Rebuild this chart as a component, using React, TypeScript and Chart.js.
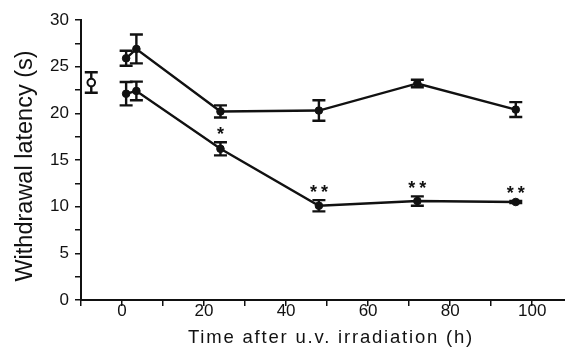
import { useEffect, useRef } from "react";
import { Chart, registerables } from "chart.js";

Chart.register(...registerables);

// ---- text ----
const xTitle = "Time after u.v. irradiation (h)";
const yTitle = "Withdrawal latency (s)";

// ---- tick labels ----
const xTickLabels = [0, 20, 40, 60, 80, 100];
const yTickLabels = [0, 5, 10, 15, 20, 25, 30];

// ---- data: baseline (open circle) ----
const baselineTimes = [-7.5];
const baselineMean = [23.3];
const baselineSem = [1.1];

// ---- data: upper series ----
const upperTimes = [1, 3.5, 24, 48, 72, 96];
const upperMean = [25.9, 26.9, 20.2, 20.3, 23.2, 20.4];
const upperSem = [0.8, 1.55, 0.65, 1.1, 0.4, 0.8];

// ---- data: lower series ----
const lowerTimes = [1, 3.5, 24, 48, 72, 96];
const lowerMean = [22.1, 22.4, 16.2, 10.1, 10.6, 10.5];
const lowerSem = [1.25, 1.0, 0.7, 0.6, 0.5, 0.1];
const lowerSig = ["", "", "*", "**", "**", "**"];

const INK = "#111";
const FONT = "'Liberation Sans', Arial, sans-serif";

const toPoints = (xs: number[], ys: number[]) => xs.map((x, i) => ({ x, y: ys[i] }));

const errorBarPlugin = {
  id: "errorBars",
  afterLayout(chart: any) {
    const xs = chart.scales.x;
    const ys = chart.scales.y;
    if (xs && !xs.__wrapped) {
      const orig = xs.drawTitle.bind(xs);
      xs.drawTitle = (...args: any[]) => {
        const ctx = chart.ctx;
        ctx.save();
        ctx.letterSpacing = "1.8px";
        ctx.translate(8, 0);
        orig(...args);
        ctx.restore();
      };
      xs.__wrapped = true;
    }
    if (ys && !ys.__wrapped) {
      const orig = ys.drawTitle.bind(ys);
      ys.drawTitle = (...args: any[]) => {
        const ctx = chart.ctx;
        ctx.save();
        ctx.translate(0, 6);
        orig(...args);
        ctx.restore();
      };
      ys.__wrapped = true;
    }
  },
  beforeDatasetsDraw(chart: any) {
    const { ctx } = chart;
    const xs = chart.scales.x;
    const ys = chart.scales.y;
    ctx.save();
    ctx.strokeStyle = INK;
    ctx.lineWidth = 2.4;
    chart.data.datasets.forEach((ds: any) => {
      const sems: number[] | undefined = ds.sem;
      if (!sems) return;
      ds.data.forEach((p: any, i: number) => {
        const px = xs.getPixelForValue(p.x);
        const top = ys.getPixelForValue(p.y + sems[i]);
        const bot = ys.getPixelForValue(p.y - sems[i]);
        ctx.beginPath();
        ctx.moveTo(px, top);
        ctx.lineTo(px, bot);
        ctx.moveTo(px - 6.5, top);
        ctx.lineTo(px + 6.5, top);
        ctx.moveTo(px - 6.5, bot);
        ctx.lineTo(px + 6.5, bot);
        ctx.stroke();
      });
    });
    ctx.restore();
  },
  afterDatasetsDraw(chart: any) {
    const { ctx } = chart;
    const xs = chart.scales.x;
    const ys = chart.scales.y;
    ctx.save();
    ctx.fillStyle = INK;
    ctx.font = `bold 18px ${FONT}`;
    ctx.textAlign = "center";
    ctx.textBaseline = "alphabetic";
    chart.data.datasets.forEach((ds: any) => {
      const sig: string[] | undefined = ds.sig;
      if (!sig) return;
      ds.data.forEach((p: any, i: number) => {
        const label = sig[i];
        if (!label) return;
        const px = xs.getPixelForValue(p.x);
        const top = ys.getPixelForValue(p.y + (ds.sem ? ds.sem[i] : 0));
        const centerY = top - 13;
        const n = label.length;
        for (let k = 0; k < n; k++) {
          const sx = px + (k - (n - 1) / 2) * 11;
          ctx.fillText(label[k], sx, centerY + 0.58 * 18);
        }
      });
    });
    ctx.restore();
  },
};

export default function App() {
  const canvasRef = useRef<HTMLCanvasElement | null>(null);

  useEffect(() => {
    const canvas = canvasRef.current;
    if (!canvas) return;
    const chart = new Chart(canvas, {
      type: "scatter",
      data: {
        datasets: [
          {
            label: "Baseline",
            data: toPoints(baselineTimes, baselineMean),
            sem: baselineSem,
            showLine: false,
            pointStyle: "circle",
            pointRadius: 3.8,
            pointBackgroundColor: "#fff",
            pointBorderColor: INK,
            pointBorderWidth: 2,
          } as any,
          {
            label: "Upper",
            data: toPoints(upperTimes, upperMean),
            sem: upperSem,
            showLine: true,
            borderColor: INK,
            borderWidth: 2.4,
            pointRadius: 3.8,
            pointBackgroundColor: INK,
            pointBorderColor: INK,
            pointBorderWidth: 1,
          } as any,
          {
            label: "Lower",
            data: toPoints(lowerTimes, lowerMean),
            sem: lowerSem,
            sig: lowerSig,
            showLine: true,
            borderColor: INK,
            borderWidth: 2.4,
            pointRadius: 3.8,
            pointBackgroundColor: INK,
            pointBorderColor: INK,
            pointBorderWidth: 1,
          } as any,
        ],
      },
      options: {
        animation: false,
        responsive: false,
        devicePixelRatio: 1,
        layout: { autoPadding: false, padding: { top: 20, left: 0, right: 0, bottom: 1.5 } },
        plugins: {
          legend: { display: false },
          tooltip: { enabled: false },
        },
        scales: {
          x: {
            type: "linear",
            min: -10,
            max: 108,
            afterBuildTicks: (scale: any) => {
              scale.ticks = scale.ticks.filter(
                (t: any) => Math.abs(t.value / 10 - Math.round(t.value / 10)) < 1e-6
              );
            },
            ticks: {
              stepSize: 10,
              maxTicksLimit: 100,
              includeBounds: false,
              autoSkip: false,
              maxRotation: 0,
              padding: -3,
              color: INK,
              font: { family: FONT, size: 17, lineHeight: 1 },
              callback: (v: any) => (xTickLabels.includes(Number(v)) ? String(v) : ""),
            },
            grid: {
              drawOnChartArea: false,
              drawTicks: true,
              tickLength: 6,
              color: INK,
              lineWidth: 1.5,
            },
            border: { display: true, color: INK, width: 2 },
            title: {
              display: true,
              text: xTitle,
              color: INK,
              font: { family: FONT, size: 18.5, lineHeight: 1 },
              padding: { top: 12, bottom: 0 },
            },
          },
          y: {
            type: "linear",
            min: 0,
            max: 30,
            ticks: {
              stepSize: 2.5,
              maxTicksLimit: 100,
              autoSkip: false,
              padding: 6,
              color: INK,
              font: { family: FONT, size: 17, lineHeight: 1 },
              callback: (v: any) => (yTickLabels.includes(Number(v)) ? String(v) : ""),
            },
            grid: {
              drawOnChartArea: false,
              drawTicks: true,
              tickLength: 6,
              color: INK,
              lineWidth: 1.5,
            },
            border: { display: true, color: INK, width: 2 },
            title: {
              display: true,
              text: yTitle,
              color: INK,
              font: { family: FONT, size: 23.5, lineHeight: 1 },
              padding: { top: 14.25, bottom: 6.35 },
            },
          },
        },
      } as any,
      plugins: [errorBarPlugin],
    });
    return () => chart.destroy();
  }, []);

  return (
    <div style={{ position: "fixed", left: 0, top: 0, width: 565, height: 349, background: "#fff" }}>
      <canvas ref={canvasRef} width={565} height={349} style={{ display: "block" }} />
    </div>
  );
}
